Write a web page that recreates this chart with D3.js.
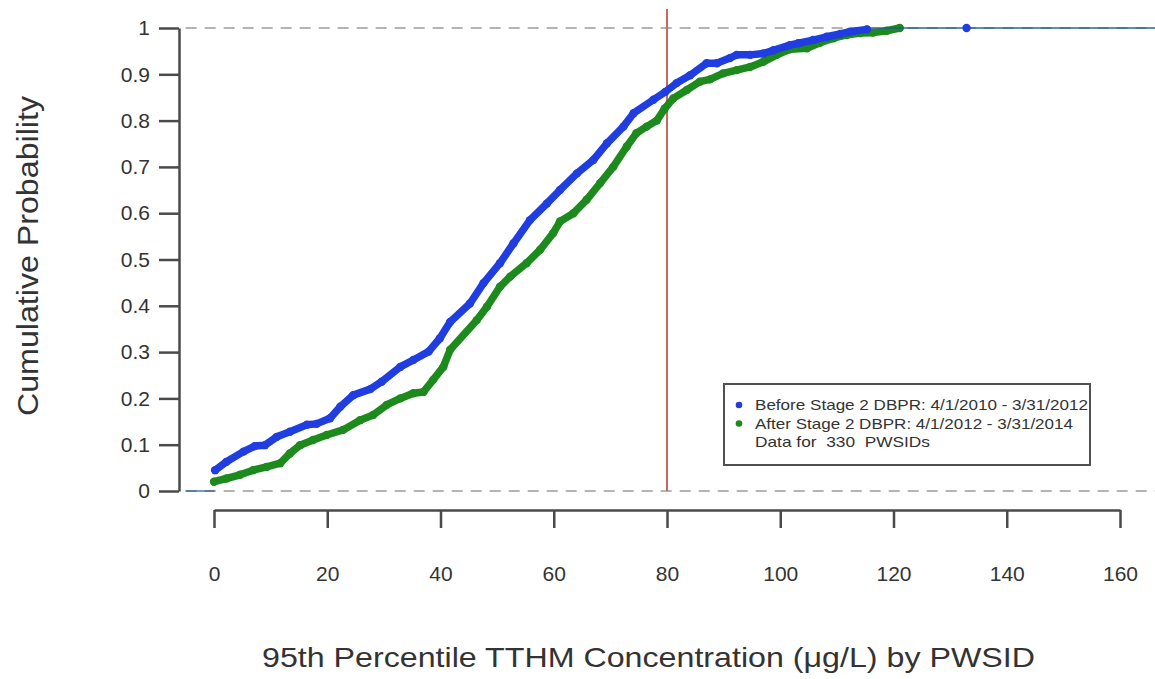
<!DOCTYPE html>
<html>
<head>
<meta charset="utf-8">
<script src="https://cdn.jsdelivr.net/npm/d3@7"></script>
<style>
  body { margin: 0; background: #fff; }
  text { font-family: "Liberation Sans", Arial, sans-serif; fill: #333; white-space: pre; }
</style>
</head>
<body>
<svg id="chart"></svg>
<script>
// cumulative probability curves: concentration (ug/L) and probability
var beforeX = [0.2, 2.2, 5.2, 7.2, 9.0, 11.1, 13.4, 16.4, 18.1, 20.5, 22.3, 24.6, 27.6, 29.6, 32.9, 35.2, 37.9, 39.9, 41.7, 45.2, 47.6, 50.5, 52.9, 55.8, 58.8, 61.1, 64.1, 67.0, 69.4, 72.3, 74.1, 77.6, 79.7, 81.7, 84.1, 87.0, 88.8, 91.1, 92.3, 94.7, 97.0, 98.8, 101.7, 103.2, 105.8, 108.2, 110.6, 112.3, 115.3];
var beforeP = [0.045, 0.063, 0.085, 0.097, 0.099, 0.117, 0.128, 0.143, 0.145, 0.157, 0.182, 0.207, 0.220, 0.236, 0.268, 0.283, 0.301, 0.330, 0.365, 0.405, 0.449, 0.492, 0.535, 0.585, 0.621, 0.650, 0.686, 0.715, 0.751, 0.787, 0.816, 0.845, 0.862, 0.881, 0.898, 0.924, 0.924, 0.935, 0.942, 0.942, 0.945, 0.952, 0.963, 0.967, 0.974, 0.981, 0.987, 0.992, 0.997];
var beforeLast = [132.9, 1.0];

var afterX = [0.0, 2.2, 4.6, 6.9, 9.3, 11.7, 13.4, 15.2, 17.5, 19.9, 22.8, 25.8, 28.1, 30.5, 32.9, 35.2, 37.0, 38.7, 40.5, 41.7, 46.4, 48.2, 50.5, 52.3, 55.2, 57.6, 59.9, 61.1, 63.5, 65.8, 68.2, 70.5, 72.9, 74.6, 76.4, 78.2, 79.6, 81.1, 83.5, 85.8, 87.6, 89.9, 92.3, 94.7, 97.0, 99.4, 101.7, 104.7, 107.0, 109.4, 111.7, 114.1, 116.4, 118.8, 121.1];
var afterP = [0.020, 0.027, 0.035, 0.045, 0.052, 0.060, 0.081, 0.099, 0.110, 0.121, 0.132, 0.153, 0.164, 0.186, 0.200, 0.211, 0.214, 0.240, 0.268, 0.305, 0.369, 0.398, 0.441, 0.463, 0.492, 0.521, 0.557, 0.582, 0.600, 0.629, 0.665, 0.700, 0.744, 0.773, 0.787, 0.800, 0.826, 0.848, 0.866, 0.884, 0.889, 0.902, 0.909, 0.916, 0.927, 0.942, 0.954, 0.956, 0.968, 0.978, 0.985, 0.989, 0.990, 0.994, 1.0];

var xTicks = [0, 20, 40, 60, 80, 100, 120, 140, 160];
var yTicks = [0, 0.1, 0.2, 0.3, 0.4, 0.5, 0.6, 0.7, 0.8, 0.9, 1];
var mcl = 80;
var legendLabels = ["Before Stage 2 DBPR: 4/1/2010 - 3/31/2012", "After Stage 2 DBPR: 4/1/2012 - 3/31/2014", "Data for  330  PWSIDs"];

var w = 1155, h = 679;
var blue = "#1f3de0", green = "#1c8a1c";

var svg = d3.select("#chart").attr("width", w).attr("height", h);

var x = d3.scaleLinear().domain([0, 160]).range([214, 1120]);
var y = d3.scaleLinear().domain([0, 1]).range([491, 28]);
var plotLeft = x(-5), plotRight = w;

// reference lines at 0 and 1
svg.selectAll("line.ref")
  .data([0, 1])
  .enter()
  .append("line")
  .attr("class", "ref")
  .attr("x1", plotLeft).attr("x2", plotRight)
  .attr("y1", function(d) { return y(d); })
  .attr("y2", function(d) { return y(d); })
  .attr("stroke", "#b4b4b4")
  .attr("stroke-width", 2)
  .attr("stroke-dasharray", "11,8");

// MCL line
svg.append("line")
  .attr("x1", x(mcl)).attr("x2", x(mcl))
  .attr("y1", 9).attr("y2", y(0))
  .attr("stroke", "#c8675f")
  .attr("stroke-width", 2);

function drawSeries(xs, ps, color, tail) {
  var pts = xs.map(function(v, i) { return [v, ps[i]]; });
  // thin tails of the step function
  svg.append("line")
    .attr("x1", plotLeft).attr("x2", x(xs[0]))
    .attr("y1", y(0)).attr("y2", y(0))
    .attr("stroke", color).attr("stroke-opacity", 0.5).attr("stroke-width", 1.5);
  var last = tail || pts[pts.length - 1];
  svg.append("line")
    .attr("x1", x(pts[pts.length - 1][0])).attr("x2", plotRight)
    .attr("y1", y(last[1])).attr("y2", y(last[1]))
    .attr("stroke", color).attr("stroke-opacity", 0.6).attr("stroke-width", 1.5);

  var line = d3.line()
    .x(function(d) { return x(d[0]); })
    .y(function(d) { return y(d[1]); });
  svg.append("path")
    .datum(pts)
    .attr("d", line)
    .attr("fill", "none")
    .attr("stroke", color)
    .attr("stroke-width", 7.5)
    .attr("stroke-linejoin", "round")
    .attr("stroke-linecap", "round");

  var all = tail ? pts.concat([tail]) : pts;
  svg.selectAll(null)
    .data(all)
    .enter()
    .append("circle")
    .attr("cx", function(d) { return x(d[0]); })
    .attr("cy", function(d) { return y(d[1]); })
    .attr("r", 4.2)
    .attr("fill", color);
}

drawSeries(afterX, afterP, green, null);
drawSeries(beforeX, beforeP, blue, beforeLast);

// axes
var xAxis = d3.axisBottom(x)
  .tickValues(xTicks)
  .tickFormat(d3.format("d"))
  .tickSizeInner(18).tickSizeOuter(0).tickPadding(38);
var gx = svg.append("g").attr("transform", "translate(0,510)").call(xAxis);

var yAxis = d3.axisLeft(y)
  .tickValues(yTicks)
  .tickFormat(function(d) { return d3.format("")(+d.toFixed(1)); })
  .tickSizeInner(20).tickSizeOuter(0).tickPadding(9);
var gy = svg.append("g").attr("transform", "translate(179,0)").call(yAxis);

[gx, gy].forEach(function(g) {
  g.selectAll("path.domain").attr("stroke", "#4a4a4a").attr("stroke-width", 2.5);
  g.selectAll(".tick line").attr("stroke", "#4a4a4a").attr("stroke-width", 2.5);
  g.selectAll(".tick text").attr("font-size", 21).attr("fill", "#333")
    .attr("font-family", "Liberation Sans, Arial, sans-serif");
});

// axis titles
svg.append("text")
  .attr("x", 262).attr("y", 667)
  .attr("font-size", 28)
  .attr("textLength", 773)
  .attr("lengthAdjust", "spacingAndGlyphs")
  .text("95th Percentile TTHM Concentration (\u03bcg/L) by PWSID");

svg.append("text")
  .attr("transform", "translate(38,416) rotate(-90)")
  .attr("font-size", 30)
  .attr("textLength", 320)
  .attr("lengthAdjust", "spacingAndGlyphs")
  .text("Cumulative Probability");

// legend
var legend = svg.append("g").attr("transform", "translate(724,384)");
legend.append("rect")
  .attr("width", 366).attr("height", 81)
  .attr("fill", "#fff")
  .attr("stroke", "#505050")
  .attr("stroke-width", 2);
var legendLen = [333, 318, 175];
legend.selectAll("text")
  .data(legendLabels)
  .enter()
  .append("text")
  .attr("x", 31)
  .attr("y", function(d, i) { return 26 + i * 18.5; })
  .attr("font-size", 15)
  .attr("textLength", function(d, i) { return legendLen[i]; })
  .attr("lengthAdjust", "spacingAndGlyphs")
  .text(function(d) { return d; });
legend.selectAll("circle")
  .data([blue, green])
  .enter()
  .append("circle")
  .attr("cx", 15)
  .attr("cy", function(d, i) { return 21 + i * 18.5; })
  .attr("r", 3.3)
  .attr("fill", function(d) { return d; });
</script>
</body>
</html>
